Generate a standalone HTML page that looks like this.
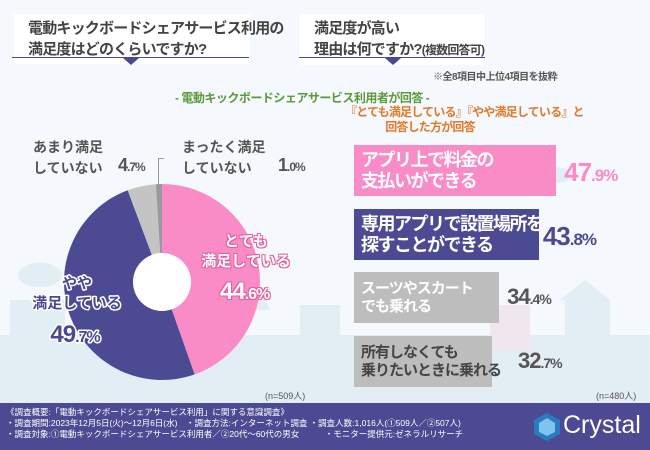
<!DOCTYPE html>
<html><head><meta charset="utf-8">
<style>
*{margin:0;padding:0;box-sizing:border-box}
body{width:650px;height:450px;overflow:hidden;background:#f5f8fc;font-family:"Liberation Sans","Noto Sans CJK JP",sans-serif;position:relative}
.abs{position:absolute}
.title{background:#fff;color:#444;font-size:15px;line-height:21px;font-weight:bold;padding:4px 14px;white-space:nowrap;letter-spacing:-0.8px}
.pk{text-shadow:1px 1px 0 #e0609f,-1px -1px 0 #e0609f,1px -1px 0 #e0609f,-1px 1px 0 #e0609f}
</style></head><body>
<svg class="abs" style="left:0;top:0" width="650" height="450">
<rect x="0" y="335" width="650" height="70" fill="#e2edf4"/>
<g fill="#e3edf4">
<ellipse cx="40" cy="275" rx="22" ry="12"/><rect x="10" y="300" width="55" height="45"/>
<polygon points="240,310 255,275 270,310"/><rect x="300" y="305" width="40" height="40"/>
<polygon points="560,300 585,280 610,300"/><rect x="565" y="300" width="45" height="45"/>
<ellipse cx="555" cy="175" rx="16" ry="8"/>
</g>
<g fill="#efe6ee"><rect x="490" y="305" width="40" height="45"/></g>
</svg>

<div class="abs title" style="left:14px;top:14px;width:236px">電動キックボードシェアサービス利用の<br>満足度はどのくらいですか?</div>
<div class="abs" style="left:12px;top:57px;width:237px;height:1px;background:#4a4893"></div>
<div class="abs" style="left:123px;top:58px;width:0;height:0;border-left:8px solid transparent;border-right:8px solid transparent;border-top:7px solid #4a4893"></div>

<div class="abs title" style="left:300px;top:14px;width:184px">満足度が高い<br>理由は何ですか?<span style="font-size:12px">(複数回答可)</span></div>
<div class="abs" style="left:299px;top:57px;width:186px;height:1px;background:#4a4893"></div>
<div class="abs" style="left:385px;top:58px;width:0;height:0;border-left:8px solid transparent;border-right:8px solid transparent;border-top:7px solid #4a4893"></div>

<div class="abs" style="left:433px;top:68px;font-size:10px;color:#555;font-weight:bold;white-space:nowrap;letter-spacing:-0.5px">※全8項目中上位4項目を抜粋</div>
<div class="abs" style="left:175px;top:89px;font-size:12px;color:#5a9a3a;font-weight:bold;white-space:nowrap;letter-spacing:-0.5px">- 電動キックボードシェアサービス利用者が回答 -</div>
<div class="abs" style="left:345px;top:105px;width:170px;text-align:center;font-size:12px;line-height:15px;color:#e07a28;font-weight:bold;white-space:nowrap;letter-spacing:-0.8px">『とても満足している』『やや満足している』と<br>回答した方が回答</div>

<svg class="abs" style="left:0;top:0" width="650" height="450" id="pie"></svg>

<div class="abs" style="left:33px;top:137px;font-size:14px;line-height:21px;color:#555;font-weight:bold">あまり満足<br>していない</div>
<div class="abs" style="left:118px;top:155px;font-size:18px;color:#555;font-weight:bold;letter-spacing:-1px">4<span style="font-size:12px">.7%</span></div>
<div class="abs" style="left:182px;top:137px;font-size:14px;line-height:21px;color:#555;font-weight:bold">まったく満足<br>していない</div>
<div class="abs" style="left:278px;top:155px;font-size:18px;color:#555;font-weight:bold;letter-spacing:-1px">1<span style="font-size:12px">.0%</span></div>
<div class="abs" style="left:158px;top:158px;width:1px;height:30px;background:#999"></div>
<div class="abs" style="left:158px;top:158px;width:6px;height:1px;background:#999"></div>

<div class="abs pk" style="left:198px;top:232px;width:96px;text-align:center;font-size:15px;line-height:20px;color:#fff;font-weight:bold">とても<br>満足している</div>
<div class="abs pk" style="left:220px;top:278px;font-size:24px;color:#fff;font-weight:bold;letter-spacing:-1px">44<span style="font-size:16px">.6%</span></div>
<svg class="abs" style="left:0;top:260px" width="160" height="90">
<g font-weight="bold" fill="#4a4893" stroke="#fff" stroke-width="3" paint-order="stroke" stroke-linejoin="round" text-anchor="middle" font-family="Liberation Sans, Noto Sans CJK JP, sans-serif">
<text x="77" y="28" font-size="15">やや</text>
<text x="77" y="48" font-size="15">満足している</text>
<text x="75" y="82" font-size="24" letter-spacing="-1">49<tspan font-size="16">.7%</tspan></text>
</g></svg>

<div id="bars"></div>

<div class="abs" style="left:265px;top:389px;font-size:9px;color:#555">(n=509人)</div>
<div class="abs" style="left:596px;top:389px;font-size:9px;color:#555">(n=480人)</div>

<div class="abs" style="left:0;top:403px;width:650px;height:47px;background:#4b4a93">
<div class="abs" style="left:6px;top:4px;font-size:8.5px;line-height:11px;color:#fff;white-space:pre">《調査概要:「電動キックボードシェアサービス利用」に関する意識調査》
・調査期間:2023年12月5日(火)〜12月6日(水)　・調査方法:インターネット調査 ・調査人数:1,016人(①509人／②507人)
・調査対象:①電動キックボードシェアサービス利用者／②20代〜60代の男女　　　・モニター提供元:ゼネラルリサーチ</div>
<svg class="abs" style="left:533px;top:9px" width="28" height="30"><polygon points="14,1 27,8 27,22 14,29 1,22 1,8" fill="#2a7ac0"/><polygon points="14,6 22,11 22,20 14,24 6,20 6,11" fill="#7fc4ee"/></svg>
<div class="abs" style="left:563px;top:8px;font-size:25px;color:#fff">Crystal</div>
</div>

<script>
const pieLabels=["とても満足している","やや満足している","あまり満足していない","まったく満足していない"];
const pieValues=[44.6,49.7,4.7,1.0];
const pieColors=["#f98bc6","#4b4a93","#c4c4c4","#9a9a9a"];
const barLabels=[["アプリ上で料金の","支払いができる"],["専用アプリで設置場所を","探すことができる"],["スーツやスカート","でも乗れる"],["所有しなくても","乗りたいときに乗れる"]];
const barValues=[47.9,43.8,34.4,32.7];

const NS="http://www.w3.org/2000/svg";
const svg=document.getElementById('pie');
const cx=162,cy=282,r=98;
const total=pieValues.reduce((a,b)=>a+b,0);
let a0=0;
pieValues.forEach((v,i)=>{
  const a1=a0+v/total*Math.PI*2;
  const x0=cx+r*Math.sin(a0),y0=cy-r*Math.cos(a0),x1=cx+r*Math.sin(a1),y1=cy-r*Math.cos(a1);
  const p=document.createElementNS(NS,'path');
  p.setAttribute('d',`M${cx},${cy}L${x0},${y0}A${r},${r} 0 ${a1-a0>Math.PI?1:0} 1 ${x1},${y1}Z`);
  p.setAttribute('fill',pieColors[i]);
  
  
  svg.appendChild(p);
  a0=a1;
});
const hole=document.createElementNS(NS,'circle');
hole.setAttribute('cx',cx);hole.setAttribute('cy',cy);hole.setAttribute('r',29);hole.setAttribute('fill','#fff');


svg.appendChild(hole);

const bx=354,scale=4.22,by0=145,step=63.7,bh=51;
const barFill=["#f98bc6","#4b4a93","#bdbdbd","#bdbdbd"];
const valColor=["#f98bc6","#4b4a93","#555","#555"];
const bars=document.getElementById('bars');
barValues.forEach((v,i)=>{
  const w=v*scale,y=by0+i*step;
  const b=document.createElement('div');
  b.className='abs';
  b.style.cssText=`left:${bx}px;top:${y}px;width:${w}px;height:${bh}px;background:${barFill[i]}`;
  
  
  bars.appendChild(b);
  const t=document.createElement('div');
  t.className='abs';
  const big=i<2;
  t.style.cssText=`left:${bx+7}px;top:${y+(big?5:8)}px;font-size:${big?18:15}px;line-height:${big?21:18}px;color:${i==3?'#444':'#fff'};font-weight:bold;white-space:nowrap;letter-spacing:${big?-1.5:-1}px`;
  t.innerHTML=barLabels[i].join('<br>');
  
  
  bars.appendChild(t);
  const s=v.toFixed(1).split('.');
  const l=document.createElement('div');
  l.className='abs';
  l.style.cssText=`left:${bx+w+(i==1?4:8)+(i==3?18:0)}px;top:${y+12}px;font-size:${big?26:22}px;color:${valColor[i]};font-weight:bold;letter-spacing:-1px`;
  l.innerHTML=s[0]+`<span style="font-size:${big?17:14}px">.${s[1]}%</span>`;
  
  
  bars.appendChild(l);
});
</script>
</body></html>
